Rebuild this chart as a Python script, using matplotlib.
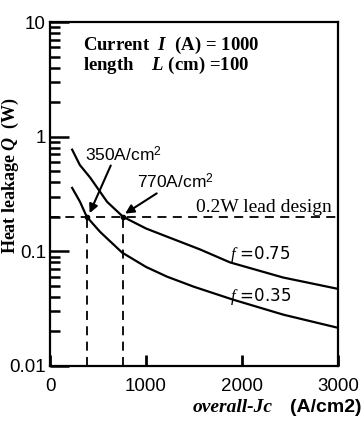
"""Heat leakage vs overall-Jc for a 1000 A, 100 cm current lead (two fill factors)."""

import matplotlib

matplotlib.use("Agg")
import matplotlib.pyplot as plt
from matplotlib.ticker import FixedLocator, LogLocator, NullFormatter

# curve f=0.75 (upper)
JC_075 = [230, 310, 417, 594, 760, 1000, 1220, 1560, 1875, 2430, 3000]
Q_075 = [0.77, 0.566, 0.44, 0.27, 0.20, 0.158, 0.134, 0.104, 0.080, 0.059, 0.047]
# curve f=0.35 (lower)
JC_035 = [230, 312, 382, 520, 750, 1000, 1220, 1500, 1900, 2430, 3000]
Q_035 = [0.357, 0.27, 0.20, 0.148, 0.0975, 0.073, 0.060, 0.049, 0.038, 0.028, 0.0215]

Q_DESIGN = 0.2
JC_CROSS = [382, 757]
X_TICKS = [0, 1000, 2000, 3000]
Y_TICKS = [0.01, 0.1, 1, 10]
Y_TICKLABELS = ["0.01", "0.1", "1", "10"]

plt.rcParams["mathtext.fontset"] = "custom"
plt.rcParams["mathtext.rm"] = "Liberation Sans"
plt.rcParams["mathtext.it"] = "Liberation Serif:italic"
plt.rcParams["mathtext.bf"] = "Liberation Serif:bold"
plt.rcParams["mathtext.bfit"] = "Liberation Serif:italic:bold"

SANS = "Liberation Sans"
SERIF = "Liberation Serif"

fig = plt.figure(figsize=(3.63, 4.32), dpi=100)
ax = fig.add_axes([0.138, 0.153, 0.793, 0.796])
ax.set_axisbelow(False)

ax.plot(JC_075, Q_075, color="black", lw=1.6)
ax.plot(JC_035, Q_035, color="black", lw=1.6)

dash = (0, (5, 3.5))
ax.plot([0, 3000], [Q_DESIGN, Q_DESIGN], color="black", lw=1.3, ls=dash)
for jc in JC_CROSS:
    ax.plot([jc, jc], [0.01, Q_DESIGN], color="black", lw=1.3, ls=dash)
ax.plot(JC_CROSS, [Q_DESIGN] * len(JC_CROSS), "o", color="black", ms=3)

ax.set_yscale("log")
ax.set_xlim(0, 3000)
ax.set_ylim(0.01, 10)
ax.xaxis.set_major_locator(FixedLocator(X_TICKS))
ax.set_xticklabels([str(t) for t in X_TICKS], family=SANS, fontsize=13.5)
ax.yaxis.set_major_locator(FixedLocator(Y_TICKS))
ax.set_yticklabels(Y_TICKLABELS, family=SANS, fontsize=13.5)
ax.yaxis.set_minor_locator(LogLocator(base=10, subs=[2, 3, 4, 5, 6, 7, 8, 9], numticks=20))
ax.yaxis.set_minor_formatter(NullFormatter())
ax.tick_params(axis="y", which="major", direction="in", length=14, width=1.8,
               pad=3, color="black")
ax.tick_params(axis="y", which="minor", direction="in", length=7, width=1.8,
               color="black")
ax.tick_params(axis="x", which="major", direction="in", length=8, width=2.0,
               pad=9, color="black")
for spine in ax.spines.values():
    spine.set_linewidth(1.6)

ax.text(0.115, 0.933, r"Current  $\mathbfit{I}$  (A) = 1000", transform=ax.transAxes,
        family=SERIF, fontweight="bold", fontsize=13.5, va="center", ha="left")
ax.text(0.115, 0.875, r"length    $\mathbfit{L}$ (cm) =100", transform=ax.transAxes,
        family=SERIF, fontweight="bold", fontsize=13.5, va="center", ha="left")

arrow = dict(arrowstyle="-|>", color="black", lw=1.5, shrinkA=0, shrinkB=0,
             mutation_scale=13)
ax.text(365, 0.69, "350A/cm$^2$", family=SANS, fontsize=12.5, ha="left", va="center")
ax.annotate("", xy=(JC_CROSS[0] + 30, 0.215), xytext=(632, 0.56), arrowprops=arrow)
ax.text(905, 0.40, "770A/cm$^2$", family=SANS, fontsize=12.5, ha="left", va="center")
ax.annotate("", xy=(JC_CROSS[1] + 25, 0.213), xytext=(1111, 0.32), arrowprops=arrow)

ax.text(2940, 0.24, "0.2W lead design", family=SERIF, fontsize=14,
        ha="right", va="center")
ax.text(1870, 0.093, "$f$ =0.75", fontsize=12, ha="left", va="center")
ax.text(1870, 0.040, "$f$ =0.35", fontsize=12, ha="left", va="center")

fig.text(0.028, 0.593, r"Heat leakage $\mathbfit{Q}$  (W)", rotation=90, family=SERIF,
         fontweight="bold", fontsize=13, ha="center", va="center")
fig.text(0.752, 0.056, "overall-Jc", family=SERIF, style="italic",
         fontweight="bold", fontsize=14, ha="right", va="center")
fig.text(0.997, 0.056, "(A/cm2)", family=SANS, fontweight="bold",
         fontsize=14, ha="right", va="center")

fig.savefig("out.png", dpi=100)
